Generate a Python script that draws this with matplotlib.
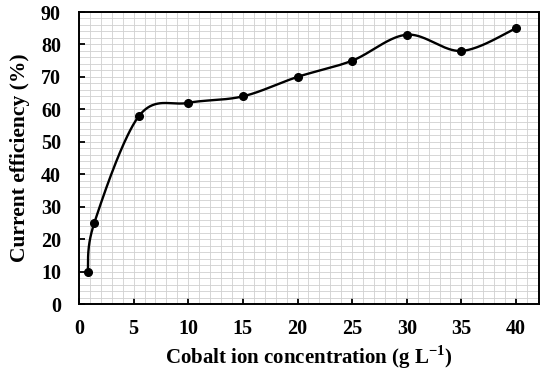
import numpy as np
import matplotlib
matplotlib.use('Agg')
import matplotlib.pyplot as plt
from matplotlib.ticker import MultipleLocator

plt.rcParams['font.family'] = ['Liberation Serif', 'DejaVu Serif']
plt.rcParams['font.weight'] = 'bold'
plt.rcParams['mathtext.fontset'] = 'custom'
plt.rcParams['mathtext.rm'] = 'Liberation Serif:bold'
plt.rcParams['mathtext.bf'] = 'Liberation Serif:bold'

# data
cobalt = [0.8, 1.4, 5.5, 10, 15, 20, 25, 30, 35, 40]
efficiency = [10, 25, 58, 62, 64, 70, 75, 83, 78, 85]


def smooth_curve(x, y, n=40):
    # Excel-like smoothed line (cubic Bezier, Catmull-Rom control points)
    x = np.asarray(x, float); y = np.asarray(y, float)
    px = np.concatenate([[x[0]], x, [x[-1]]])
    py = np.concatenate([[y[0]], y, [y[-1]]])
    xs, ys = [], []
    t = np.linspace(0, 1, n)
    for i in range(1, len(px) - 2):
        p0 = np.array([px[i], py[i]])
        p3 = np.array([px[i + 1], py[i + 1]])
        p1 = p0 + (np.array([px[i + 1], py[i + 1]]) - np.array([px[i - 1], py[i - 1]])) / 6
        p2 = p3 - (np.array([px[i + 2], py[i + 2]]) - np.array([px[i], py[i]])) / 6
        b = ((1 - t) ** 3)[:, None] * p0 + (3 * (1 - t) ** 2 * t)[:, None] * p1 \
            + (3 * (1 - t) * t ** 2)[:, None] * p2 + (t ** 3)[:, None] * p3
        xs.append(b[:, 0]); ys.append(b[:, 1])
    return np.concatenate(xs), np.concatenate(ys)


fig = plt.figure(figsize=(5.5, 3.72), dpi=100)
ax = fig.add_axes([79 / 550, (372 - 304) / 372, (539 - 79) / 550, (304 - 12) / 372])

sx, sy = smooth_curve(cobalt, efficiency)
ax.plot(sx, sy, color='black', lw=1.7, zorder=3)
ax.plot(cobalt, efficiency, 'o', color='black', ms=5.5, zorder=4)

ax.set_xlim(0, 42.1)
ax.set_ylim(0, 90)
ax.xaxis.set_major_locator(MultipleLocator(5))
ax.yaxis.set_major_locator(MultipleLocator(10))
ax.xaxis.set_minor_locator(MultipleLocator(1))
ax.yaxis.set_minor_locator(MultipleLocator(2))
ax.grid(which='both', color='#d0d0d0', lw=0.6, zorder=0)
ax.set_axisbelow(True)

ax.tick_params(which='major', direction='in', length=4, width=1.3, labelsize=14.5)
ax.tick_params(axis='x', pad=11)
ax.tick_params(axis='y', pad=13)
ax.tick_params(which='minor', length=0)
for lbl in ax.get_xticklabels() + ax.get_yticklabels():
    lbl.set_fontweight('bold')
for s in ax.spines.values():
    s.set_linewidth(1.4)

ax.set_xlabel('Cobalt ion concentration (g L$^{-1}$)', fontsize=15, fontweight='bold', labelpad=3)
ax.set_ylabel('Current efficiency (%)', fontsize=15.5, fontweight='bold', labelpad=8)

fig.savefig('out.png', dpi=100)
